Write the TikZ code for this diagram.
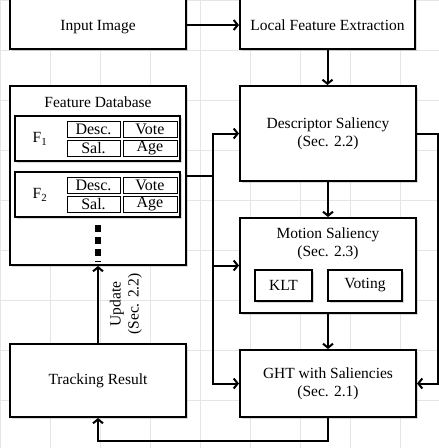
\documentclass[tikz,border=0pt]{standalone}
\usepackage{fontspec}
\setmainfont{Liberation Serif}
\usetikzlibrary{arrows.meta,shadows}
\begin{document}
\begin{tikzpicture}[x=1pt,y=1pt,
  txt/.style={font=\fontsize{15.5}{18}\selectfont, align=center, inner sep=0pt},
  block/.style={draw, line width=2pt, fill=white, inner sep=0pt, txt,
    drop shadow={shadow xshift=1.6pt, shadow yshift=-1.6pt, opacity=0.3}},
  toprow/.style={block, minimum height=56pt, text height=18pt, text depth=0pt},
  cell/.style={draw, line width=0.9pt, fill=white, inner sep=0pt,
    minimum height=16pt, font=\fontsize{16}{18}\selectfont},
  lcell/.style={cell, minimum width=53pt},
  rcell/.style={cell, minimum width=54pt},
  wire/.style={line width=2pt, line join=miter},
  flow/.style={wire, -{Straight Barb[length=4pt,width=10pt]}},
]
\useasboundingbox (0,0) rectangle (439,-448);
\clip (0,0) rectangle (439,-448);
% faint page grid behind the drawing
\draw[black!10, line width=0.4pt] (0,0) grid[step=50] (439,-448);

% top row (boxes run past the upper edge of the page)
\node[toprow, minimum width=176pt] (in) at (98,-21) {Input Image};
\node[toprow, minimum width=175pt] (lfe) at (327.5,-21) {Local Feature Extraction};

% feature database with two records
\node[block, minimum width=176pt, minimum height=179pt] (db) at (98,-175.5) {};
\node[txt] (dbt) at (98,-102) {Feature Database};

\node[block, minimum width=165pt, minimum height=45pt] (f1) at (97.5,-138.5) {};
\node[txt] (f1l) at (40,-139) {F\textsubscript{1}};
\node[lcell] (f1d) at (93.5,-129) {Desc.};
\node[rcell] (f1v) at (150,-129) {Vote};
\node[lcell] (f1s) at (93.5,-148) {Sal.};
\node[rcell] (f1a) at (150,-148) {Age};

\node[block, minimum width=165pt, minimum height=45pt] (f2) at (97.5,-194.5) {};
\node[txt] (f2l) at (40,-195) {F\textsubscript{2}};
\node[lcell] (f2d) at (93.5,-185) {Desc.};
\node[rcell] (f2v) at (150,-185) {Vote};
\node[lcell] (f2s) at (93.5,-204) {Sal.};
\node[rcell] (f2a) at (150,-204) {Age};

% continuation marks
\draw[line width=6pt, dash pattern=on 7pt off 5pt] (98,-225) -- (98,-262);

% processing chain
\node[block, minimum width=176pt, minimum height=95pt] (ds) at (328,-133.5) {Descriptor Saliency\\(Sec. 2.2)};
\node[block, minimum width=176pt, minimum height=95pt] (ms) at (328,-265.5) {};
\node[txt] (mst) at (328,-243.5) {Motion Saliency\\(Sec. 2.3)};
\node[block, minimum width=57pt, minimum height=31pt] (klt) at (283.5,-285.5) {KLT};
\node[block, minimum width=74pt, minimum height=31pt] (vot) at (365,-285.5) {Voting};
\node[block, minimum width=176pt, minimum height=67pt] (ght) at (328,-383.5) {GHT with Saliencies\\(Sec. 2.1)};
\node[block, minimum width=176pt, minimum height=73pt] (tr) at (98,-380.5) {Tracking Result};

% connectors
\coordinate (bx) at (213,0);
\coordinate (rx) at (437.5,0);
\coordinate (by) at (0,-441);

\draw[flow] ([yshift=-4pt]in.east) -- ([yshift=-4pt]lfe.west);
\draw[flow] (lfe.south) -- (lfe.south |- ds.north);
\draw[flow] (ds.south) -- (ms.north);
\draw[flow] (ms.south) -- (ght.north);

\draw[wire] (db.east) -- (db.east -| bx);
\draw[wire, {Straight Barb[length=4pt,width=10pt]}-{Straight Barb[length=4pt,width=10pt]}]
  (ds.west) -- (bx |- ds.west) -- (bx |- ght.west) -- (ght.west);
\draw[flow] (bx |- ms.west) -- (ms.west);

\draw[flow] (ds.east) -- (ds.east -| rx) -- (rx |- ght.east) -- (ght.east);
\draw[flow] (ght.south) -- (ght.south |- by) -- (tr.south |- by) -- (tr.south);
\draw[flow] (tr.north) -- (db.south);
\node[txt, rotate=90] (upd) at (126,-304) {Update\\(Sec. 2.2)};
\end{tikzpicture}
\end{document}
